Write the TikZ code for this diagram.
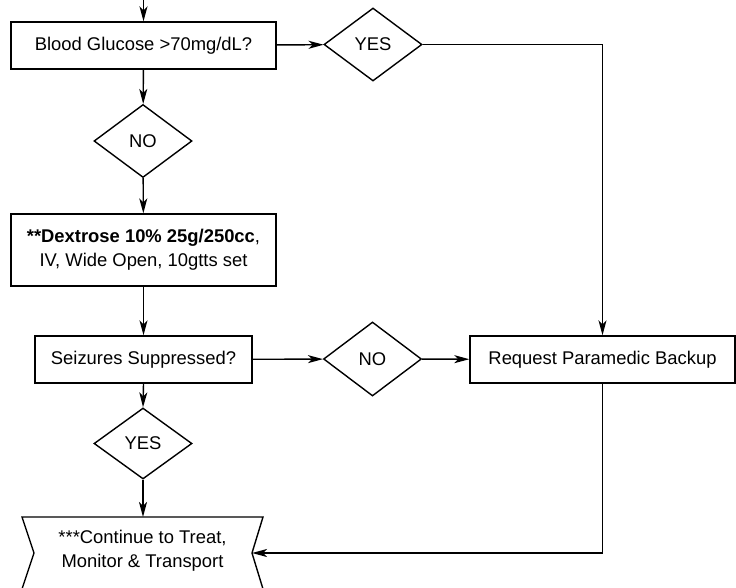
\documentclass[tikz,border=0pt]{standalone}
\usepackage{fontspec}
\setmainfont{Liberation Sans}
\usepackage{tikz}
\usetikzlibrary{arrows.meta, positioning, shapes.geometric}
\tikzset{
  proc/.style    = {rectangle, draw, line width=1.4pt, minimum height=47pt,
                    inner sep=2pt, align=center},
  decide/.style  = {diamond, draw, line width=1.4pt, minimum width=98pt,
                    minimum height=73pt, inner sep=0pt, aspect=1.34},
  flow/.style    = {line width=1.4pt, -{Stealth[length=15pt, width=8pt, inset=4pt]}},
  link/.style    = {line width=1.4pt},
}

\begin{document}
\begin{tikzpicture}[x=1pt, y=-1pt, font=\fontsize{18.4}{24}\selectfont]
  \useasboundingbox (0,0) rectangle (736,587);
  % ---- left column
  \coordinate (top) at (143.5,-2);
  \node[proc, minimum width=265pt] (glucose) at (143.5,45.5) {Blood Glucose >70mg/dL?};
  \node[decide] (no1) at (143,141) {NO};
  \node[proc, minimum width=265pt, minimum height=72pt] (dextrose) at (143.5,250)
    {{\bfseries **Dextrose 10\% 25g/250cc},\\IV, Wide Open, 10gtts set};
  \node[proc, minimum width=217pt] (seizure) at (143.5,359.5) {Seizures Suppressed?};
  \node[decide, minimum height=71pt] (yes2) at (143,443.5) {YES};
  % ---- continue (notched on both sides, runs off the page)
  \draw[link] (22,517) -- (263,517) -- (252,553) -- (263,589) -- (22,589) -- (34,553) -- cycle;
  \node[align=center, inner sep=0pt] (cont) at (142.5,551) {***Continue to Treat,\\Monitor \& Transport};
  \coordinate (contN) at (143,517);
  \coordinate (contE) at (252,553);
  % ---- right side
  \node[decide] (yes1) at (373,44.5) {YES};
  \node[decide, minimum height=74pt] (no2) at (372.5,359) {NO};
  \node[proc, minimum width=265pt] (backup) at (602.5,359.5) {Request Paramedic Backup};
  % ---- connectors
  \draw[flow] (top) -- (glucose);
  \draw[flow] (glucose) -- (yes1);
  \draw[flow] (yes1.east) -| (backup.north);
  \draw[flow] (glucose) -- (no1);
  \draw[flow] (no1) -- (dextrose);
  \draw[flow] (dextrose) -- (seizure);
  \draw[flow] (seizure) -- (no2);
  \draw[flow] (no2) -- (backup);
  \draw[flow] (seizure.south) -- (yes2.north);
  \draw[flow] (yes2.south) -- (contN);
  \draw[flow] (backup.south) |- (contE);
\end{tikzpicture}
\end{document}
